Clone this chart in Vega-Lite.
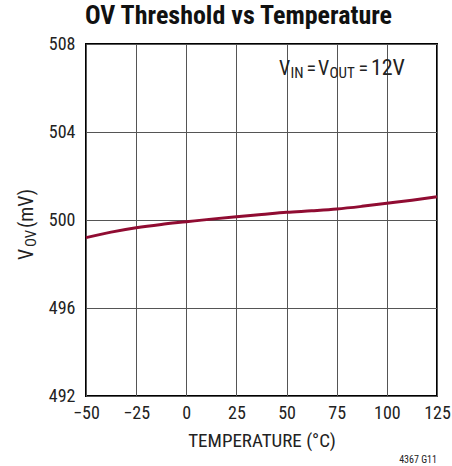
{
  "$schema": "https://vega.github.io/schema/vega-lite/v6.json",
  "width": 351,
  "height": 352,
  "autosize": "none",
  "padding": {"left": 86, "top": 44, "right": 15, "bottom": 70},
  "config": {
    "font": "'Roboto Condensed', 'Liberation Sans Narrow', 'Arial Narrow', Roboto, sans-serif",
    "view": {"stroke": "#000000", "strokeWidth": 2},
    "axis": {"domain": false, "ticks": false, "gridColor": "#555555", "gridOpacity": 1, "gridWidth": 1, "labelColor": "#222222", "labelFontSize": 18, "labelOverlap": false, "labelFlush": false, "titleColor": "#222222", "titleFontWeight": "normal"}
  },
  "title": {"text": "OV Threshold vs Temperature", "fontSize": 26, "fontWeight": "bold", "color": "#111111", "anchor": "middle", "dx": -23, "offset": 6},
  "data": {"values": [
    {"t": -50, "v": 499.2},
    {"t": -37.5, "v": 499.45},
    {"t": -25, "v": 499.65},
    {"t": -12.5, "v": 499.8},
    {"t": 0, "v": 499.92},
    {"t": 12.5, "v": 500.04},
    {"t": 25, "v": 500.15},
    {"t": 37.5, "v": 500.25},
    {"t": 50, "v": 500.35},
    {"t": 62.5, "v": 500.42},
    {"t": 75, "v": 500.5},
    {"t": 87.5, "v": 500.62},
    {"t": 100, "v": 500.76},
    {"t": 112.5, "v": 500.9},
    {"t": 125, "v": 501.06}
  ]},
  "layer": [
    {
      "mark": {"type": "line", "color": "#900C32", "strokeWidth": 3, "interpolate": "monotone"},
      "encoding": {
        "x": {"field": "t", "type": "quantitative", "scale": {"domain": [-50, 125], "nice": false, "zero": false},
          "axis": {"values": [-50, -25, 0, 25, 50, 75, 100, 125], "labelExpr": "replace(datum.label, '-', '\u2013')", "labelPadding": 8, "title": "TEMPERATURE (°C)", "titleFontSize": 19, "titlePadding": 9}},
        "y": {"field": "v", "type": "quantitative", "scale": {"domain": [492, 508], "nice": false, "zero": false},
          "axis": {"values": [492, 496, 500, 504, 508], "labelPadding": 11, "title": null}}
      }
    },
    {
      "data": {"values": [{}]},
      "mark": {"type": "text", "fontSize": 20, "align": "left", "baseline": "alphabetic", "color": "#222222", "dx": 0},
      "encoding": {"x": {"datum": 46.2}, "y": {"datum": 506.6}, "text": {"value": "V"}}
    },
    {
      "data": {"values": [{}]},
      "mark": {"type": "text", "fontSize": 15, "align": "left", "baseline": "alphabetic", "color": "#222222", "dx": 11.5, "dy": 3},
      "encoding": {"x": {"datum": 46.2}, "y": {"datum": 506.6}, "text": {"value": "IN"}}
    },
    {
      "data": {"values": [{}]},
      "mark": {"type": "text", "fontSize": 20, "align": "left", "baseline": "alphabetic", "color": "#222222", "dx": 27.5},
      "encoding": {"x": {"datum": 46.2}, "y": {"datum": 506.6}, "text": {"value": "="}}
    },
    {
      "data": {"values": [{}]},
      "mark": {"type": "text", "fontSize": 20, "align": "left", "baseline": "alphabetic", "color": "#222222", "dx": 39},
      "encoding": {"x": {"datum": 46.2}, "y": {"datum": 506.6}, "text": {"value": "V"}}
    },
    {
      "data": {"values": [{}]},
      "mark": {"type": "text", "fontSize": 15, "align": "left", "baseline": "alphabetic", "color": "#222222", "dx": 50.5, "dy": 3},
      "encoding": {"x": {"datum": 46.2}, "y": {"datum": 506.6}, "text": {"value": "OUT"}}
    },
    {
      "data": {"values": [{}]},
      "mark": {"type": "text", "fontSize": 20, "align": "left", "baseline": "alphabetic", "color": "#222222", "dx": 79.5},
      "encoding": {"x": {"datum": 46.2}, "y": {"datum": 506.6}, "text": {"value": "="}}
    },
    {
      "data": {"values": [{}]},
      "mark": {"type": "text", "fontSize": 22, "align": "right", "baseline": "alphabetic", "color": "#222222", "dx": 126},
      "encoding": {"x": {"datum": 46.2}, "y": {"datum": 506.6}, "text": {"value": "12V"}}
    },
    {
      "data": {"values": [{}]},
      "mark": {"type": "text", "fontSize": 20, "align": "left", "baseline": "alphabetic", "angle": 270, "color": "#222222", "dx": -40, "dy": -53},
      "encoding": {"x": {"datum": -50}, "y": {"datum": 500}, "text": {"value": "V"}}
    },
    {
      "data": {"values": [{}]},
      "mark": {"type": "text", "fontSize": 15, "align": "left", "baseline": "alphabetic", "angle": 270, "color": "#222222", "dx": -27, "dy": -50},
      "encoding": {"x": {"datum": -50}, "y": {"datum": 500}, "text": {"value": "OV"}}
    },
    {
      "data": {"values": [{}]},
      "mark": {"type": "text", "fontSize": 20, "align": "left", "baseline": "alphabetic", "angle": 270, "color": "#222222", "dx": -8, "dy": -53},
      "encoding": {"x": {"datum": -50}, "y": {"datum": 500}, "text": {"value": "(mV)"}}
    },
    {
      "data": {"values": [{}]},
      "mark": {"type": "text", "fontSize": 10, "align": "right", "baseline": "alphabetic", "color": "#222222", "dy": 67},
      "encoding": {"x": {"datum": 125}, "y": {"datum": 492}, "text": {"value": "4367 G11"}}
    }
  ]
}
